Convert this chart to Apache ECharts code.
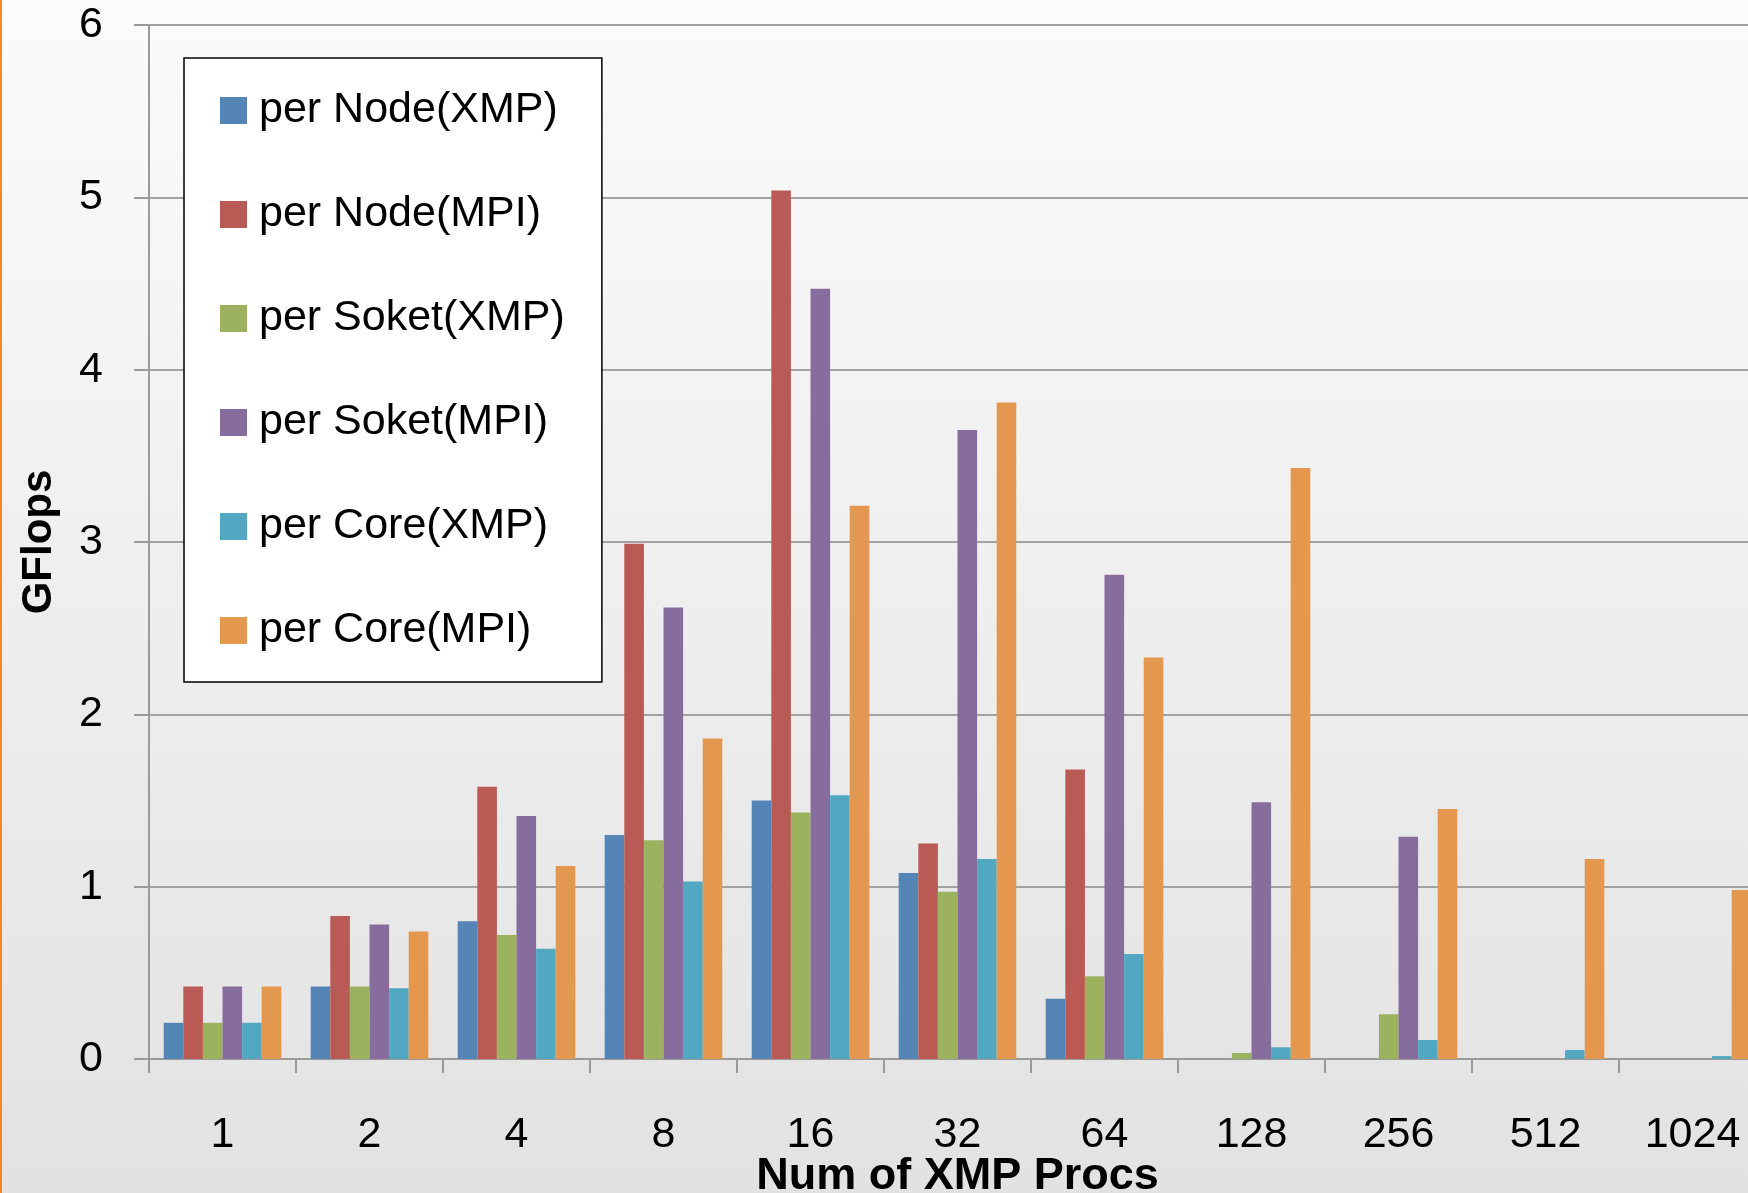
<!DOCTYPE html>
<html>
<head>
<meta charset="utf-8">
<title>GFlops per Node / Socket / Core</title>
<script src="https://cdn.jsdelivr.net/npm/echarts@6/dist/echarts.min.js"></script>
<style>
  html, body { margin: 0; padding: 0; }
  #chart { width: 1748px; height: 1193px; }
</style>
</head>
<body>
<div id="chart"></div>
<script>
// Number of XMP processes (category axis)
const procs = ['1', '2', '4', '8', '16', '32', '64', '128', '256', '512', '1024'];

// GFlops figures; null where no run was measured
const perNodeXMP   = [0.21, 0.42, 0.80, 1.30, 1.50, 1.08, 0.35, null, null, null, null];
const perNodeMPI   = [0.42, 0.83, 1.58, 2.99, 5.04, 1.25, 1.68, null, null, null, null];
const perSoketXMP  = [0.21, 0.42, 0.72, 1.27, 1.43, 0.97, 0.48, 0.035, 0.26, null, null];
const perSoketMPI  = [0.42, 0.78, 1.41, 2.62, 4.47, 3.65, 2.81, 1.49, 1.29, null, null];
const perCoreXMP   = [0.21, 0.41, 0.64, 1.03, 1.53, 1.16, 0.61, 0.068, 0.11, 0.052, 0.017];
const perCoreMPI   = [0.42, 0.74, 1.12, 1.86, 3.21, 3.81, 2.33, 3.43, 1.45, 1.16, 0.98];

const seriesNames = ['per Node(XMP)', 'per Node(MPI)', 'per Soket(XMP)', 'per Soket(MPI)', 'per Core(XMP)', 'per Core(MPI)'];
const seriesData  = [perNodeXMP, perNodeMPI, perSoketXMP, perSoketMPI, perCoreXMP, perCoreMPI];
const palette     = ['#5584B6', '#BA5A54', '#9CB25F', '#866D9E', '#51A8C0', '#E3974F'];

const yTicks = [0, 1, 2, 3, 4, 5, 6];

const chart = echarts.init(document.getElementById('chart'), null, { renderer: 'canvas' });

const font = "'Liberation Sans', Arial, sans-serif";

chart.setOption({
  animation: false,
  backgroundColor: new echarts.graphic.LinearGradient(0, 0, 0, 1, [
    { offset: 0, color: '#FBFBFB' },
    { offset: 1, color: '#E2E2E2' }
  ]),
  color: palette,
  graphic: [{
    type: 'rect',
    left: 0, top: 0,
    shape: { width: 2, height: 1193 },
    style: { fill: '#F7881F' },
    z: 100
  }],
  grid: {
    left: 149, top: 25, right: -18, bottom: 134,
    containLabel: false,
    outerBoundsMode: 'none'
  },
  legend: {
    orient: 'vertical',
    left: 184,
    top: 58,
    padding: [31, 37, 30, 36],
    backgroundColor: '#FFFFFF',
    borderColor: '#000000',
    borderWidth: 1.5,
    borderRadius: 0,
    icon: 'rect',
    itemWidth: 27,
    itemHeight: 27,
    itemGap: 61,
    textStyle: {
      fontFamily: font,
      fontSize: 43,
      lineHeight: 43,
      color: '#000000',
      padding: [0, 0, 0, 7]
    },
    data: seriesNames
  },
  xAxis: {
    type: 'category',
    data: procs,
    name: 'Num of XMP Procs',
    nameLocation: 'middle',
    nameGap: 95,
    nameMoveOverlap: false,
    nameTextStyle: { fontFamily: font, fontSize: 45, fontWeight: 'bold', color: '#000000' },
    axisLine: { lineStyle: { color: '#9A9A9A', width: 2 } },
    axisTick: { show: true, inside: false, length: 14, alignWithLabel: false, lineStyle: { color: '#9A9A9A', width: 2 } },
    axisLabel: { margin: 55, fontFamily: font, fontSize: 43, color: '#000000', interval: 0 },
    splitLine: { show: false }
  },
  yAxis: {
    type: 'value',
    min: yTicks[0],
    max: yTicks[yTicks.length - 1],
    interval: 1,
    name: 'GFlops',
    nameLocation: 'middle',
    nameRotate: 90,
    nameGap: 89,
    nameMoveOverlap: false,
    nameTextStyle: { fontFamily: font, fontSize: 42, fontWeight: 'bold', color: '#000000' },
    axisLine: { show: true, lineStyle: { color: '#9A9A9A', width: 2 } },
    axisTick: { show: true, inside: false, length: 15, lineStyle: { color: '#9A9A9A', width: 2 } },
    axisLabel: { margin: 46, fontFamily: font, fontSize: 43, color: '#000000' },
    splitLine: { show: true, lineStyle: { color: '#A2A2A2', width: 2 } }
  },
  series: seriesNames.map((name, i) => ({
    name: name,
    type: 'bar',
    data: seriesData[i],
    barGap: '0%',
    barCategoryGap: '20%',
    itemStyle: { color: palette[i] }
  }))
});
</script>
</body>
</html>
